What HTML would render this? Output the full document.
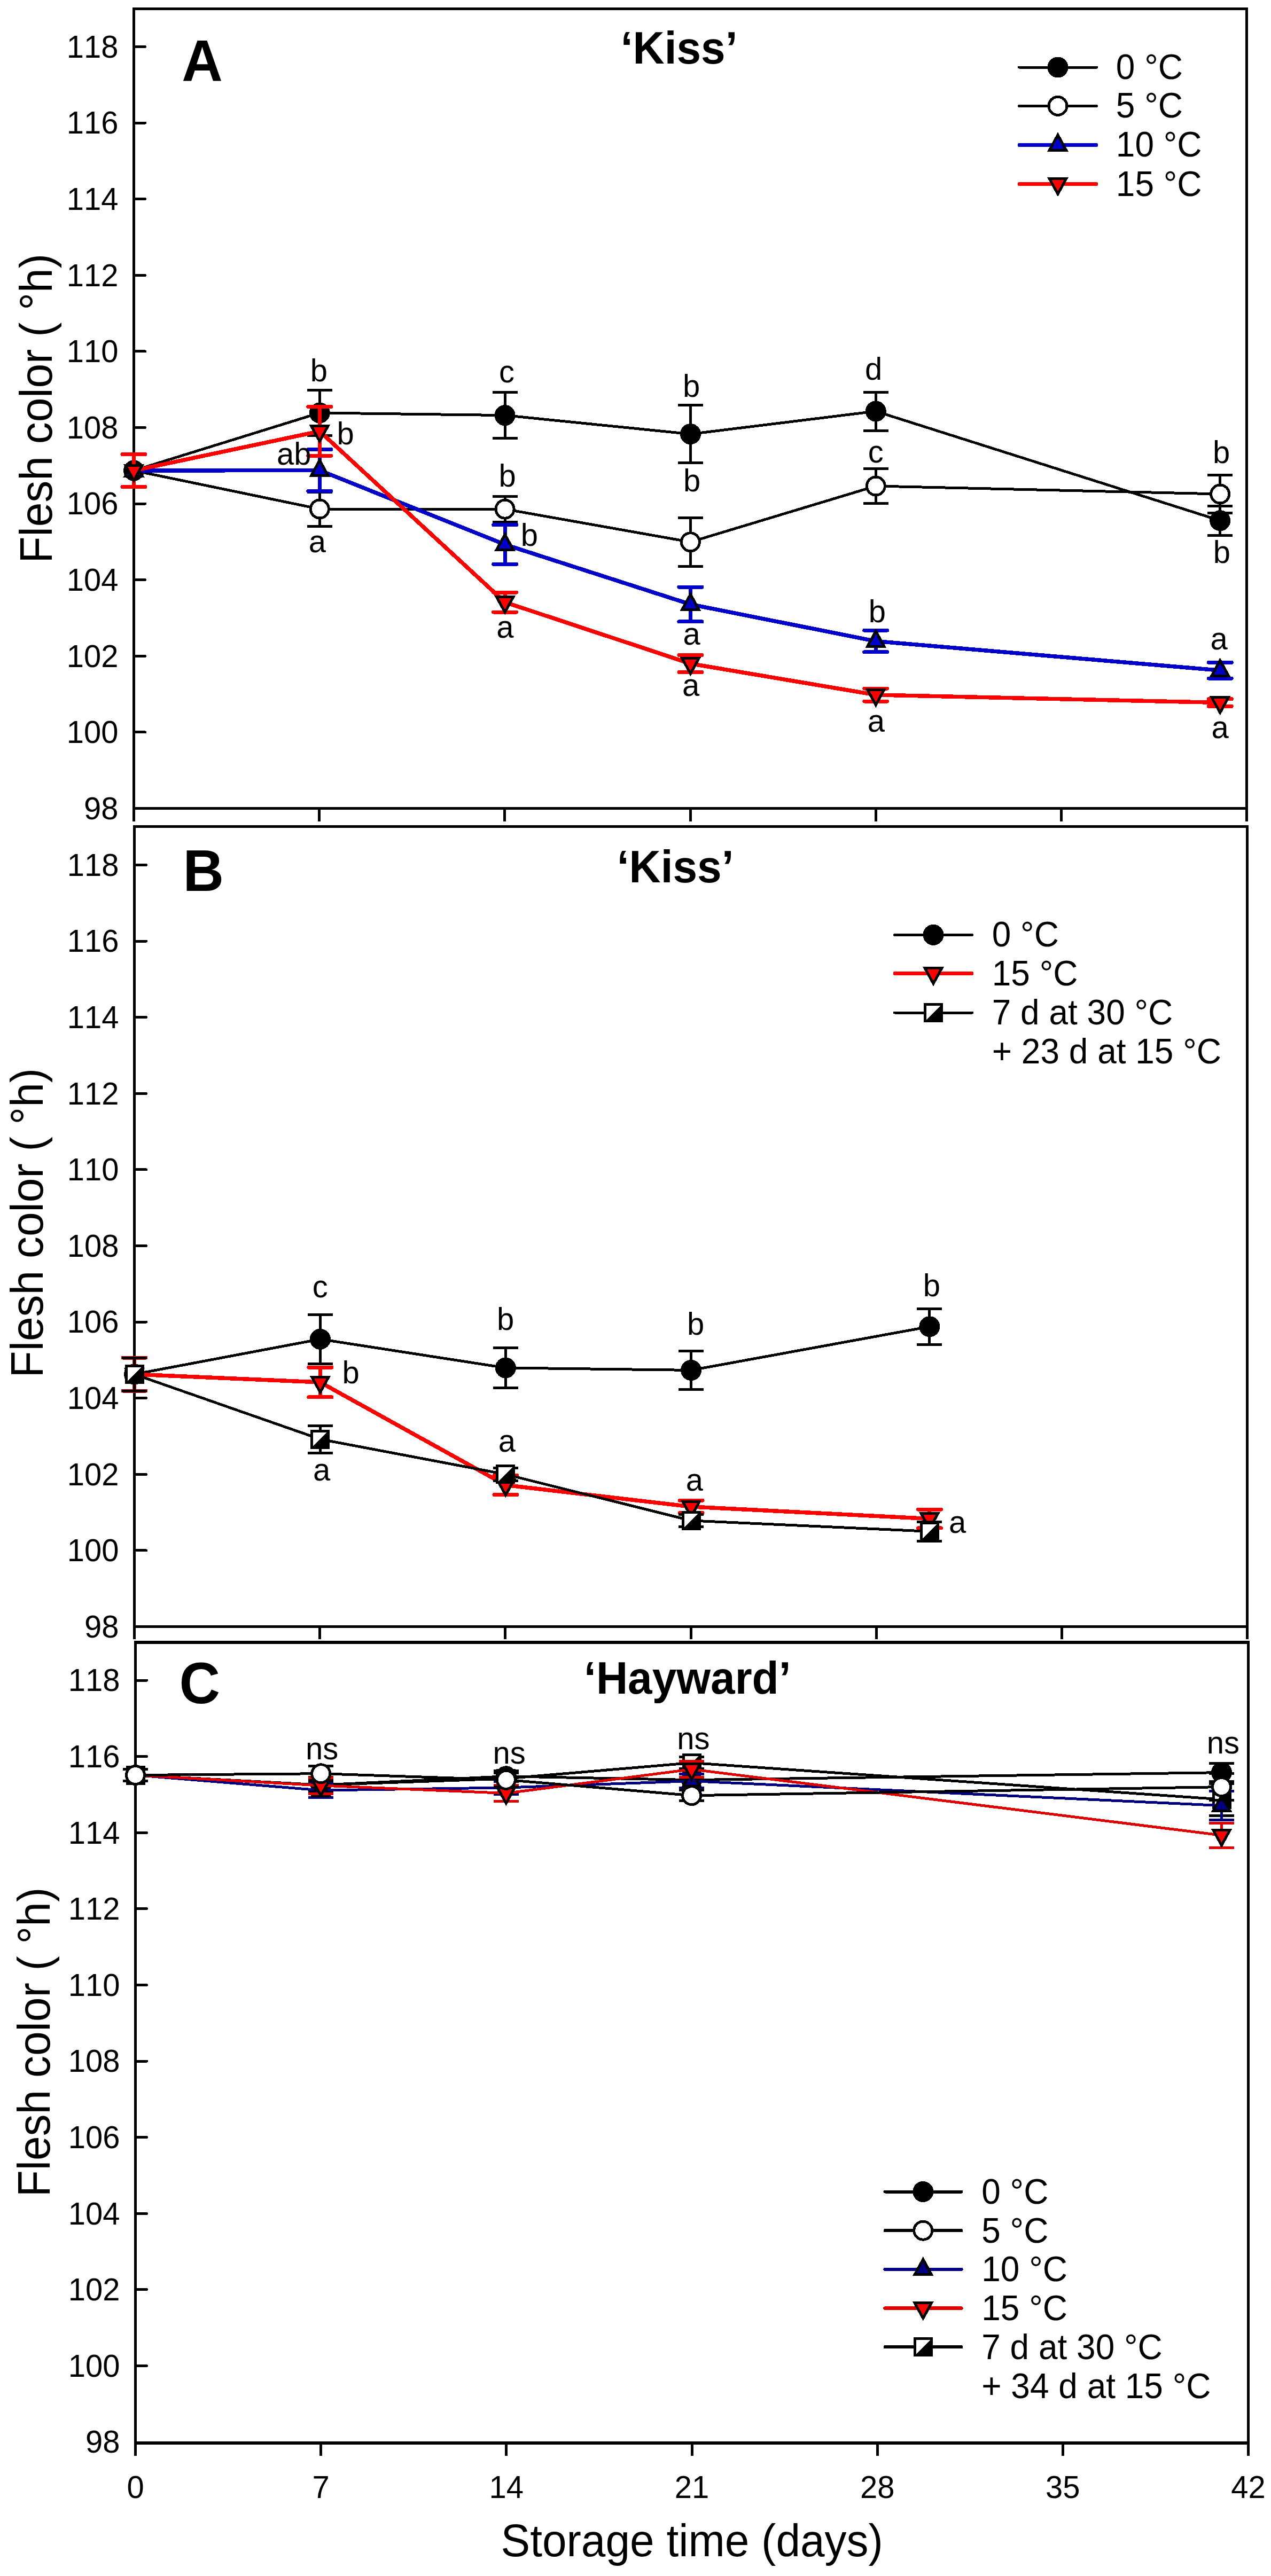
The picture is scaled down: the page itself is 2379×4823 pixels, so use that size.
<!DOCTYPE html>
<html lang="en">
<head>
<meta charset="utf-8">
<title>Flesh color during storage</title>
<style>
html,body{margin:0;padding:0;background:#fff;}
body{width:2379px;height:4823px;overflow:hidden;}
svg{display:block;}
svg text{font-family:"Liberation Sans", sans-serif;white-space:pre;font-kerning:none;}
</style>
</head>
<body>
<svg width="2379" height="4823" viewBox="0 0 2379 4823" font-family='"Liberation Sans", sans-serif' fill="#000" shape-rendering="crispEdges">
<rect width="2379" height="4823" fill="#fff"/>
<rect x="248.0" y="14.0" width="5.0" height="1523.5" fill="#000" shape-rendering="crispEdges"/>
<rect x="2331.0" y="14.0" width="5.0" height="1523.5" fill="#000" shape-rendering="crispEdges"/>
<rect x="248.0" y="14.0" width="2088.0" height="5.0" fill="#000" shape-rendering="crispEdges"/>
<rect x="248.0" y="1511.0" width="2088.0" height="5.0" fill="#000" shape-rendering="crispEdges"/>
<line x1="252.0" y1="87.5" x2="271.5" y2="87.5" stroke="#000" stroke-width="5" stroke-linecap="round"/>
<rect x="252.0" y="85.0" width="19.0" height="5.0" fill="#000" shape-rendering="crispEdges"/>
<text transform="translate(221.5,107.8) scale(1,1.035)" font-size="58" text-anchor="end">118</text>
<line x1="252.0" y1="230.1" x2="271.5" y2="230.1" stroke="#000" stroke-width="5" stroke-linecap="round"/>
<rect x="252.0" y="227.6" width="19.0" height="5.0" fill="#000" shape-rendering="crispEdges"/>
<text transform="translate(221.5,250.4) scale(1,1.035)" font-size="58" text-anchor="end">116</text>
<line x1="252.0" y1="372.7" x2="271.5" y2="372.7" stroke="#000" stroke-width="5" stroke-linecap="round"/>
<rect x="252.0" y="370.2" width="19.0" height="5.0" fill="#000" shape-rendering="crispEdges"/>
<text transform="translate(221.5,393.0) scale(1,1.035)" font-size="58" text-anchor="end">114</text>
<line x1="252.0" y1="515.3" x2="271.5" y2="515.3" stroke="#000" stroke-width="5" stroke-linecap="round"/>
<rect x="252.0" y="512.8" width="19.0" height="5.0" fill="#000" shape-rendering="crispEdges"/>
<text transform="translate(221.5,535.6) scale(1,1.035)" font-size="58" text-anchor="end">112</text>
<line x1="252.0" y1="657.9" x2="271.5" y2="657.9" stroke="#000" stroke-width="5" stroke-linecap="round"/>
<rect x="252.0" y="655.4" width="19.0" height="5.0" fill="#000" shape-rendering="crispEdges"/>
<text transform="translate(221.5,678.2) scale(1,1.035)" font-size="58" text-anchor="end">110</text>
<line x1="252.0" y1="800.5" x2="271.5" y2="800.5" stroke="#000" stroke-width="5" stroke-linecap="round"/>
<rect x="252.0" y="798.0" width="19.0" height="5.0" fill="#000" shape-rendering="crispEdges"/>
<text transform="translate(221.5,820.8) scale(1,1.035)" font-size="58" text-anchor="end">108</text>
<line x1="252.0" y1="943.1" x2="271.5" y2="943.1" stroke="#000" stroke-width="5" stroke-linecap="round"/>
<rect x="252.0" y="940.6" width="19.0" height="5.0" fill="#000" shape-rendering="crispEdges"/>
<text transform="translate(221.5,963.4) scale(1,1.035)" font-size="58" text-anchor="end">106</text>
<line x1="252.0" y1="1085.7" x2="271.5" y2="1085.7" stroke="#000" stroke-width="5" stroke-linecap="round"/>
<rect x="252.0" y="1083.2" width="19.0" height="5.0" fill="#000" shape-rendering="crispEdges"/>
<text transform="translate(221.5,1106.0) scale(1,1.035)" font-size="58" text-anchor="end">104</text>
<line x1="252.0" y1="1228.3" x2="271.5" y2="1228.3" stroke="#000" stroke-width="5" stroke-linecap="round"/>
<rect x="252.0" y="1225.8" width="19.0" height="5.0" fill="#000" shape-rendering="crispEdges"/>
<text transform="translate(221.5,1248.6) scale(1,1.035)" font-size="58" text-anchor="end">102</text>
<line x1="252.0" y1="1370.9" x2="271.5" y2="1370.9" stroke="#000" stroke-width="5" stroke-linecap="round"/>
<rect x="252.0" y="1368.4" width="19.0" height="5.0" fill="#000" shape-rendering="crispEdges"/>
<text transform="translate(221.5,1391.2) scale(1,1.035)" font-size="58" text-anchor="end">100</text>
<text transform="translate(221.5,1533.8) scale(1,1.035)" font-size="58" text-anchor="end">98</text>
<rect x="595.2" y="1515.0" width="5.0" height="22.5" fill="#000" shape-rendering="crispEdges"/>
<rect x="942.3" y="1515.0" width="5.0" height="22.5" fill="#000" shape-rendering="crispEdges"/>
<rect x="1289.5" y="1515.0" width="5.0" height="22.5" fill="#000" shape-rendering="crispEdges"/>
<rect x="1636.7" y="1515.0" width="5.0" height="22.5" fill="#000" shape-rendering="crispEdges"/>
<rect x="1983.8" y="1515.0" width="5.0" height="22.5" fill="#000" shape-rendering="crispEdges"/>
<rect x="249.0" y="1545.0" width="5.0" height="1523.5" fill="#000" shape-rendering="crispEdges"/>
<rect x="2332.0" y="1545.0" width="5.0" height="1523.5" fill="#000" shape-rendering="crispEdges"/>
<rect x="249.0" y="1545.0" width="2088.0" height="5.0" fill="#000" shape-rendering="crispEdges"/>
<rect x="249.0" y="3043.0" width="2088.0" height="5.0" fill="#000" shape-rendering="crispEdges"/>
<line x1="253.0" y1="1619.5" x2="273.5" y2="1619.5" stroke="#000" stroke-width="5" stroke-linecap="round"/>
<rect x="253.0" y="1617.0" width="20.0" height="5.0" fill="#000" shape-rendering="crispEdges"/>
<text transform="translate(222.5,1639.8) scale(1,1.035)" font-size="58" text-anchor="end">118</text>
<line x1="253.0" y1="1762.1" x2="273.5" y2="1762.1" stroke="#000" stroke-width="5" stroke-linecap="round"/>
<rect x="253.0" y="1759.6" width="20.0" height="5.0" fill="#000" shape-rendering="crispEdges"/>
<text transform="translate(222.5,1782.4) scale(1,1.035)" font-size="58" text-anchor="end">116</text>
<line x1="253.0" y1="1904.7" x2="273.5" y2="1904.7" stroke="#000" stroke-width="5" stroke-linecap="round"/>
<rect x="253.0" y="1902.2" width="20.0" height="5.0" fill="#000" shape-rendering="crispEdges"/>
<text transform="translate(222.5,1925.0) scale(1,1.035)" font-size="58" text-anchor="end">114</text>
<line x1="253.0" y1="2047.3" x2="273.5" y2="2047.3" stroke="#000" stroke-width="5" stroke-linecap="round"/>
<rect x="253.0" y="2044.8" width="20.0" height="5.0" fill="#000" shape-rendering="crispEdges"/>
<text transform="translate(222.5,2067.6) scale(1,1.035)" font-size="58" text-anchor="end">112</text>
<line x1="253.0" y1="2189.9" x2="273.5" y2="2189.9" stroke="#000" stroke-width="5" stroke-linecap="round"/>
<rect x="253.0" y="2187.4" width="20.0" height="5.0" fill="#000" shape-rendering="crispEdges"/>
<text transform="translate(222.5,2210.2) scale(1,1.035)" font-size="58" text-anchor="end">110</text>
<line x1="253.0" y1="2332.5" x2="273.5" y2="2332.5" stroke="#000" stroke-width="5" stroke-linecap="round"/>
<rect x="253.0" y="2330.0" width="20.0" height="5.0" fill="#000" shape-rendering="crispEdges"/>
<text transform="translate(222.5,2352.8) scale(1,1.035)" font-size="58" text-anchor="end">108</text>
<line x1="253.0" y1="2475.1" x2="273.5" y2="2475.1" stroke="#000" stroke-width="5" stroke-linecap="round"/>
<rect x="253.0" y="2472.6" width="20.0" height="5.0" fill="#000" shape-rendering="crispEdges"/>
<text transform="translate(222.5,2495.4) scale(1,1.035)" font-size="58" text-anchor="end">106</text>
<line x1="253.0" y1="2617.7" x2="273.5" y2="2617.7" stroke="#000" stroke-width="5" stroke-linecap="round"/>
<rect x="253.0" y="2615.2" width="20.0" height="5.0" fill="#000" shape-rendering="crispEdges"/>
<text transform="translate(222.5,2638.0) scale(1,1.035)" font-size="58" text-anchor="end">104</text>
<line x1="253.0" y1="2760.3" x2="273.5" y2="2760.3" stroke="#000" stroke-width="5" stroke-linecap="round"/>
<rect x="253.0" y="2757.8" width="20.0" height="5.0" fill="#000" shape-rendering="crispEdges"/>
<text transform="translate(222.5,2780.6) scale(1,1.035)" font-size="58" text-anchor="end">102</text>
<line x1="253.0" y1="2902.9" x2="273.5" y2="2902.9" stroke="#000" stroke-width="5" stroke-linecap="round"/>
<rect x="253.0" y="2900.4" width="20.0" height="5.0" fill="#000" shape-rendering="crispEdges"/>
<text transform="translate(222.5,2923.2) scale(1,1.035)" font-size="58" text-anchor="end">100</text>
<text transform="translate(222.5,3065.8) scale(1,1.035)" font-size="58" text-anchor="end">98</text>
<rect x="596.2" y="3047.0" width="5.0" height="21.5" fill="#000" shape-rendering="crispEdges"/>
<rect x="943.3" y="3047.0" width="5.0" height="21.5" fill="#000" shape-rendering="crispEdges"/>
<rect x="1290.5" y="3047.0" width="5.0" height="21.5" fill="#000" shape-rendering="crispEdges"/>
<rect x="1637.7" y="3047.0" width="5.0" height="21.5" fill="#000" shape-rendering="crispEdges"/>
<rect x="1984.8" y="3047.0" width="5.0" height="21.5" fill="#000" shape-rendering="crispEdges"/>
<rect x="251.0" y="3072.0" width="5.0" height="1525.5" fill="#000" shape-rendering="crispEdges"/>
<rect x="2334.0" y="3072.0" width="5.0" height="1525.5" fill="#000" shape-rendering="crispEdges"/>
<rect x="251.0" y="3072.0" width="2088.0" height="6.0" fill="#000" shape-rendering="crispEdges"/>
<rect x="251.0" y="4571.0" width="2088.0" height="6.0" fill="#000" shape-rendering="crispEdges"/>
<line x1="255.0" y1="3146.0" x2="274.5" y2="3146.0" stroke="#000" stroke-width="5" stroke-linecap="round"/>
<rect x="255.0" y="3143.5" width="19.0" height="5.0" fill="#000" shape-rendering="crispEdges"/>
<text transform="translate(224.5,3166.3) scale(1,1.035)" font-size="58" text-anchor="end">118</text>
<line x1="255.0" y1="3288.6" x2="274.5" y2="3288.6" stroke="#000" stroke-width="5" stroke-linecap="round"/>
<rect x="255.0" y="3286.1" width="19.0" height="5.0" fill="#000" shape-rendering="crispEdges"/>
<text transform="translate(224.5,3308.9) scale(1,1.035)" font-size="58" text-anchor="end">116</text>
<line x1="255.0" y1="3431.2" x2="274.5" y2="3431.2" stroke="#000" stroke-width="5" stroke-linecap="round"/>
<rect x="255.0" y="3428.7" width="19.0" height="5.0" fill="#000" shape-rendering="crispEdges"/>
<text transform="translate(224.5,3451.5) scale(1,1.035)" font-size="58" text-anchor="end">114</text>
<line x1="255.0" y1="3573.8" x2="274.5" y2="3573.8" stroke="#000" stroke-width="5" stroke-linecap="round"/>
<rect x="255.0" y="3571.3" width="19.0" height="5.0" fill="#000" shape-rendering="crispEdges"/>
<text transform="translate(224.5,3594.1) scale(1,1.035)" font-size="58" text-anchor="end">112</text>
<line x1="255.0" y1="3716.4" x2="274.5" y2="3716.4" stroke="#000" stroke-width="5" stroke-linecap="round"/>
<rect x="255.0" y="3713.9" width="19.0" height="5.0" fill="#000" shape-rendering="crispEdges"/>
<text transform="translate(224.5,3736.7) scale(1,1.035)" font-size="58" text-anchor="end">110</text>
<line x1="255.0" y1="3859.0" x2="274.5" y2="3859.0" stroke="#000" stroke-width="5" stroke-linecap="round"/>
<rect x="255.0" y="3856.5" width="19.0" height="5.0" fill="#000" shape-rendering="crispEdges"/>
<text transform="translate(224.5,3879.3) scale(1,1.035)" font-size="58" text-anchor="end">108</text>
<line x1="255.0" y1="4001.6" x2="274.5" y2="4001.6" stroke="#000" stroke-width="5" stroke-linecap="round"/>
<rect x="255.0" y="3999.1" width="19.0" height="5.0" fill="#000" shape-rendering="crispEdges"/>
<text transform="translate(224.5,4021.9) scale(1,1.035)" font-size="58" text-anchor="end">106</text>
<line x1="255.0" y1="4144.2" x2="274.5" y2="4144.2" stroke="#000" stroke-width="5" stroke-linecap="round"/>
<rect x="255.0" y="4141.7" width="19.0" height="5.0" fill="#000" shape-rendering="crispEdges"/>
<text transform="translate(224.5,4164.5) scale(1,1.035)" font-size="58" text-anchor="end">104</text>
<line x1="255.0" y1="4286.8" x2="274.5" y2="4286.8" stroke="#000" stroke-width="5" stroke-linecap="round"/>
<rect x="255.0" y="4284.3" width="19.0" height="5.0" fill="#000" shape-rendering="crispEdges"/>
<text transform="translate(224.5,4307.1) scale(1,1.035)" font-size="58" text-anchor="end">102</text>
<line x1="255.0" y1="4429.4" x2="274.5" y2="4429.4" stroke="#000" stroke-width="5" stroke-linecap="round"/>
<rect x="255.0" y="4426.9" width="19.0" height="5.0" fill="#000" shape-rendering="crispEdges"/>
<text transform="translate(224.5,4449.7) scale(1,1.035)" font-size="58" text-anchor="end">100</text>
<text transform="translate(224.5,4592.3) scale(1,1.035)" font-size="58" text-anchor="end">98</text>
<rect x="598.2" y="4576.0" width="5.0" height="21.5" fill="#000" shape-rendering="crispEdges"/>
<rect x="945.3" y="4576.0" width="5.0" height="21.5" fill="#000" shape-rendering="crispEdges"/>
<rect x="1292.5" y="4576.0" width="5.0" height="21.5" fill="#000" shape-rendering="crispEdges"/>
<rect x="1639.7" y="4576.0" width="5.0" height="21.5" fill="#000" shape-rendering="crispEdges"/>
<rect x="1986.8" y="4576.0" width="5.0" height="21.5" fill="#000" shape-rendering="crispEdges"/>
<text transform="translate(253.5,4676.5) scale(1,1.035)" font-size="58" text-anchor="middle">0</text>
<text transform="translate(600.7,4676.5) scale(1,1.035)" font-size="58" text-anchor="middle">7</text>
<text transform="translate(947.8,4676.5) scale(1,1.035)" font-size="58" text-anchor="middle">14</text>
<text transform="translate(1295.0,4676.5) scale(1,1.035)" font-size="58" text-anchor="middle">21</text>
<text transform="translate(1642.2,4676.5) scale(1,1.035)" font-size="58" text-anchor="middle">28</text>
<text transform="translate(1989.3,4676.5) scale(1,1.035)" font-size="58" text-anchor="middle">35</text>
<text transform="translate(2336.5,4676.5) scale(1,1.035)" font-size="58" text-anchor="middle">42</text>
<text transform="translate(97.2,764.8) rotate(-90) scale(1,1.035)" font-size="82" text-anchor="middle">Flesh color ( °h)</text>
<text transform="translate(80.3,2289.6) rotate(-90) scale(1,1.035)" font-size="82" text-anchor="middle">Flesh color ( °h)</text>
<text transform="translate(93.4,3823.5) rotate(-90) scale(1,1.035)" font-size="82" text-anchor="middle">Flesh color ( °h)</text>
<text transform="translate(1295.2,4785.5) scale(1,1.035)" font-size="82" text-anchor="middle">Storage time (days)</text>
<text transform="translate(1161.7,118.7) scale(1,1.035)" font-size="82" font-weight="bold">‘Kiss’</text>
<text transform="translate(1154.7,1651.9) scale(1,1.035)" font-size="82" font-weight="bold">‘Kiss’</text>
<text transform="translate(1093.1,3170.5) scale(1,1.035)" font-size="82" font-weight="bold">‘Hayward’</text>
<text transform="translate(340.3,150.9) scale(1,1.035)" font-size="106" font-weight="bold">A</text>
<text transform="translate(342.6,1667.8) scale(1,1.035)" font-size="106" font-weight="bold">B</text>
<text transform="translate(335.6,3188.6) scale(1,1.035)" font-size="106" font-weight="bold">C</text>
<polyline points="250.5,881.0 598.3,773.0 945.1,777.6 1292.4,812.7 1639.3,770.0 2283.7,974.7" fill="none" stroke="#000" stroke-width="5" stroke-linejoin="round" stroke-linecap="round"/>
<line x1="250.5" y1="850.5" x2="250.5" y2="911.5" stroke="#000" stroke-width="5"/>
<line x1="227.0" y1="850.5" x2="274.0" y2="850.5" stroke="#000" stroke-width="5"/>
<line x1="227.0" y1="911.5" x2="274.0" y2="911.5" stroke="#000" stroke-width="5"/>
<line x1="598.3" y1="730.4" x2="598.3" y2="815.6" stroke="#000" stroke-width="5"/>
<line x1="574.8" y1="730.4" x2="621.8" y2="730.4" stroke="#000" stroke-width="5"/>
<line x1="574.8" y1="815.6" x2="621.8" y2="815.6" stroke="#000" stroke-width="5"/>
<line x1="945.1" y1="734.8" x2="945.1" y2="820.4" stroke="#000" stroke-width="5"/>
<line x1="921.6" y1="734.8" x2="968.6" y2="734.8" stroke="#000" stroke-width="5"/>
<line x1="921.6" y1="820.4" x2="968.6" y2="820.4" stroke="#000" stroke-width="5"/>
<line x1="1292.4" y1="758.7" x2="1292.4" y2="866.7" stroke="#000" stroke-width="5"/>
<line x1="1268.9" y1="758.7" x2="1315.9" y2="758.7" stroke="#000" stroke-width="5"/>
<line x1="1268.9" y1="866.7" x2="1315.9" y2="866.7" stroke="#000" stroke-width="5"/>
<line x1="1639.3" y1="734.0" x2="1639.3" y2="806.0" stroke="#000" stroke-width="5"/>
<line x1="1615.8" y1="734.0" x2="1662.8" y2="734.0" stroke="#000" stroke-width="5"/>
<line x1="1615.8" y1="806.0" x2="1662.8" y2="806.0" stroke="#000" stroke-width="5"/>
<line x1="2283.7" y1="947.0" x2="2283.7" y2="1002.4" stroke="#000" stroke-width="5"/>
<line x1="2260.2" y1="947.0" x2="2307.2" y2="947.0" stroke="#000" stroke-width="5"/>
<line x1="2260.2" y1="1002.4" x2="2307.2" y2="1002.4" stroke="#000" stroke-width="5"/>
<circle cx="250.5" cy="881.0" r="17" fill="#000" stroke="#000" stroke-width="5"/>
<circle cx="598.3" cy="773.0" r="17" fill="#000" stroke="#000" stroke-width="5"/>
<circle cx="945.1" cy="777.6" r="17" fill="#000" stroke="#000" stroke-width="5"/>
<circle cx="1292.4" cy="812.7" r="17" fill="#000" stroke="#000" stroke-width="5"/>
<circle cx="1639.3" cy="770.0" r="17" fill="#000" stroke="#000" stroke-width="5"/>
<circle cx="2283.7" cy="974.7" r="17" fill="#000" stroke="#000" stroke-width="5"/>
<polyline points="250.5,881.0 598.3,953.0 945.1,953.2 1292.4,1014.8 1639.3,910.0 2283.7,925.0" fill="none" stroke="#000" stroke-width="5" stroke-linejoin="round" stroke-linecap="round"/>
<line x1="250.5" y1="850.5" x2="250.5" y2="911.5" stroke="#000" stroke-width="5"/>
<line x1="227.0" y1="850.5" x2="274.0" y2="850.5" stroke="#000" stroke-width="5"/>
<line x1="227.0" y1="911.5" x2="274.0" y2="911.5" stroke="#000" stroke-width="5"/>
<line x1="598.3" y1="921.0" x2="598.3" y2="985.0" stroke="#000" stroke-width="5"/>
<line x1="574.8" y1="921.0" x2="621.8" y2="921.0" stroke="#000" stroke-width="5"/>
<line x1="574.8" y1="985.0" x2="621.8" y2="985.0" stroke="#000" stroke-width="5"/>
<line x1="945.1" y1="929.3" x2="945.1" y2="977.1" stroke="#000" stroke-width="5"/>
<line x1="921.6" y1="929.3" x2="968.6" y2="929.3" stroke="#000" stroke-width="5"/>
<line x1="921.6" y1="977.1" x2="968.6" y2="977.1" stroke="#000" stroke-width="5"/>
<line x1="1292.4" y1="969.3" x2="1292.4" y2="1060.3" stroke="#000" stroke-width="5"/>
<line x1="1268.9" y1="969.3" x2="1315.9" y2="969.3" stroke="#000" stroke-width="5"/>
<line x1="1268.9" y1="1060.3" x2="1315.9" y2="1060.3" stroke="#000" stroke-width="5"/>
<line x1="1639.3" y1="877.3" x2="1639.3" y2="942.7" stroke="#000" stroke-width="5"/>
<line x1="1615.8" y1="877.3" x2="1662.8" y2="877.3" stroke="#000" stroke-width="5"/>
<line x1="1615.8" y1="942.7" x2="1662.8" y2="942.7" stroke="#000" stroke-width="5"/>
<line x1="2283.7" y1="889.7" x2="2283.7" y2="960.3" stroke="#000" stroke-width="5"/>
<line x1="2260.2" y1="889.7" x2="2307.2" y2="889.7" stroke="#000" stroke-width="5"/>
<line x1="2260.2" y1="960.3" x2="2307.2" y2="960.3" stroke="#000" stroke-width="5"/>
<circle cx="598.3" cy="953.0" r="17" fill="#fff" stroke="#000" stroke-width="5"/>
<circle cx="945.1" cy="953.2" r="17" fill="#fff" stroke="#000" stroke-width="5"/>
<circle cx="1292.4" cy="1014.8" r="17" fill="#fff" stroke="#000" stroke-width="5"/>
<circle cx="1639.3" cy="910.0" r="17" fill="#fff" stroke="#000" stroke-width="5"/>
<circle cx="2283.7" cy="925.0" r="17" fill="#fff" stroke="#000" stroke-width="5"/>
<polyline points="250.5,881.0 598.3,880.5 945.1,1019.5 1292.4,1131.5 1639.3,1200.5 2283.7,1255.2" fill="none" stroke="#0000c8" stroke-width="7.5" stroke-linejoin="round" stroke-linecap="round"/>
<line x1="250.5" y1="850.5" x2="250.5" y2="911.5" stroke="#0000c8" stroke-width="7"/>
<line x1="229.0" y1="850.5" x2="272.0" y2="850.5" stroke="#0000c8" stroke-width="7" stroke-linecap="round"/>
<line x1="229.0" y1="911.5" x2="272.0" y2="911.5" stroke="#0000c8" stroke-width="7" stroke-linecap="round"/>
<line x1="598.3" y1="841.4" x2="598.3" y2="919.6" stroke="#0000c8" stroke-width="7"/>
<line x1="576.8" y1="841.4" x2="619.8" y2="841.4" stroke="#0000c8" stroke-width="7" stroke-linecap="round"/>
<line x1="576.8" y1="919.6" x2="619.8" y2="919.6" stroke="#0000c8" stroke-width="7" stroke-linecap="round"/>
<line x1="945.1" y1="982.6" x2="945.1" y2="1056.4" stroke="#0000c8" stroke-width="7"/>
<line x1="923.6" y1="982.6" x2="966.6" y2="982.6" stroke="#0000c8" stroke-width="7" stroke-linecap="round"/>
<line x1="923.6" y1="1056.4" x2="966.6" y2="1056.4" stroke="#0000c8" stroke-width="7" stroke-linecap="round"/>
<line x1="1292.4" y1="1099.1" x2="1292.4" y2="1163.9" stroke="#0000c8" stroke-width="7"/>
<line x1="1270.9" y1="1099.1" x2="1313.9" y2="1099.1" stroke="#0000c8" stroke-width="7" stroke-linecap="round"/>
<line x1="1270.9" y1="1163.9" x2="1313.9" y2="1163.9" stroke="#0000c8" stroke-width="7" stroke-linecap="round"/>
<line x1="1639.3" y1="1180.1" x2="1639.3" y2="1220.9" stroke="#0000c8" stroke-width="7"/>
<line x1="1617.8" y1="1180.1" x2="1660.8" y2="1180.1" stroke="#0000c8" stroke-width="7" stroke-linecap="round"/>
<line x1="1617.8" y1="1220.9" x2="1660.8" y2="1220.9" stroke="#0000c8" stroke-width="7" stroke-linecap="round"/>
<line x1="2283.7" y1="1240.3" x2="2283.7" y2="1270.1" stroke="#0000c8" stroke-width="7"/>
<line x1="2262.2" y1="1240.3" x2="2305.2" y2="1240.3" stroke="#0000c8" stroke-width="7" stroke-linecap="round"/>
<line x1="2262.2" y1="1270.1" x2="2305.2" y2="1270.1" stroke="#0000c8" stroke-width="7" stroke-linecap="round"/>
<polygon points="234.7,891.0 266.3,891.0 250.5,862.2" fill="#0000c8" stroke="#000" stroke-width="5" stroke-linejoin="miter"/>
<polygon points="582.5,890.5 614.1,890.5 598.3,861.7" fill="#0000c8" stroke="#000" stroke-width="5" stroke-linejoin="miter"/>
<polygon points="929.3,1029.5 960.9,1029.5 945.1,1000.7" fill="#0000c8" stroke="#000" stroke-width="5" stroke-linejoin="miter"/>
<polygon points="1276.6,1141.5 1308.2,1141.5 1292.4,1112.7" fill="#0000c8" stroke="#000" stroke-width="5" stroke-linejoin="miter"/>
<polygon points="1623.5,1210.5 1655.1,1210.5 1639.3,1181.7" fill="#0000c8" stroke="#000" stroke-width="5" stroke-linejoin="miter"/>
<polygon points="2267.9,1265.2 2299.5,1265.2 2283.7,1236.4" fill="#0000c8" stroke="#000" stroke-width="5" stroke-linejoin="miter"/>
<polyline points="250.5,881.0 598.3,807.4 945.1,1127.5 1292.4,1242.5 1639.3,1301.0 2283.7,1315.5" fill="none" stroke="#ff0000" stroke-width="7.5" stroke-linejoin="round" stroke-linecap="round"/>
<line x1="250.5" y1="850.5" x2="250.5" y2="911.5" stroke="#ff0000" stroke-width="7"/>
<line x1="229.0" y1="850.5" x2="272.0" y2="850.5" stroke="#ff0000" stroke-width="7" stroke-linecap="round"/>
<line x1="229.0" y1="911.5" x2="272.0" y2="911.5" stroke="#ff0000" stroke-width="7" stroke-linecap="round"/>
<line x1="598.3" y1="761.5" x2="598.3" y2="853.3" stroke="#ff0000" stroke-width="7"/>
<line x1="576.8" y1="761.5" x2="619.8" y2="761.5" stroke="#ff0000" stroke-width="7" stroke-linecap="round"/>
<line x1="576.8" y1="853.3" x2="619.8" y2="853.3" stroke="#ff0000" stroke-width="7" stroke-linecap="round"/>
<line x1="945.1" y1="1109.0" x2="945.1" y2="1146.0" stroke="#ff0000" stroke-width="7"/>
<line x1="923.6" y1="1109.0" x2="966.6" y2="1109.0" stroke="#ff0000" stroke-width="7" stroke-linecap="round"/>
<line x1="923.6" y1="1146.0" x2="966.6" y2="1146.0" stroke="#ff0000" stroke-width="7" stroke-linecap="round"/>
<line x1="1292.4" y1="1226.7" x2="1292.4" y2="1258.3" stroke="#ff0000" stroke-width="7"/>
<line x1="1270.9" y1="1226.7" x2="1313.9" y2="1226.7" stroke="#ff0000" stroke-width="7" stroke-linecap="round"/>
<line x1="1270.9" y1="1258.3" x2="1313.9" y2="1258.3" stroke="#ff0000" stroke-width="7" stroke-linecap="round"/>
<line x1="1639.3" y1="1289.0" x2="1639.3" y2="1313.0" stroke="#ff0000" stroke-width="7"/>
<line x1="1617.8" y1="1289.0" x2="1660.8" y2="1289.0" stroke="#ff0000" stroke-width="7" stroke-linecap="round"/>
<line x1="1617.8" y1="1313.0" x2="1660.8" y2="1313.0" stroke="#ff0000" stroke-width="7" stroke-linecap="round"/>
<line x1="2283.7" y1="1308.8" x2="2283.7" y2="1322.2" stroke="#ff0000" stroke-width="7"/>
<line x1="2262.2" y1="1308.8" x2="2305.2" y2="1308.8" stroke="#ff0000" stroke-width="7" stroke-linecap="round"/>
<line x1="2262.2" y1="1322.2" x2="2305.2" y2="1322.2" stroke="#ff0000" stroke-width="7" stroke-linecap="round"/>
<polygon points="234.7,871.0 266.3,871.0 250.5,899.8" fill="#ff0000" stroke="#000" stroke-width="5" stroke-linejoin="miter"/>
<polygon points="582.5,797.4 614.1,797.4 598.3,826.2" fill="#ff0000" stroke="#000" stroke-width="5" stroke-linejoin="miter"/>
<polygon points="929.3,1117.5 960.9,1117.5 945.1,1146.3" fill="#ff0000" stroke="#000" stroke-width="5" stroke-linejoin="miter"/>
<polygon points="1276.6,1232.5 1308.2,1232.5 1292.4,1261.3" fill="#ff0000" stroke="#000" stroke-width="5" stroke-linejoin="miter"/>
<polygon points="1623.5,1291.0 1655.1,1291.0 1639.3,1319.8" fill="#ff0000" stroke="#000" stroke-width="5" stroke-linejoin="miter"/>
<polygon points="2267.9,1305.5 2299.5,1305.5 2283.7,1334.3" fill="#ff0000" stroke="#000" stroke-width="5" stroke-linejoin="miter"/>
<text transform="translate(580.8,713.5) scale(1,1.035)" font-size="58">b</text>
<text transform="translate(630.5,832.3) scale(1,1.035)" font-size="58">b</text>
<text transform="translate(517.9,870.0) scale(1,1.035)" font-size="58">ab</text>
<text transform="translate(577.8,1033.7) scale(1,1.035)" font-size="58">a</text>
<text transform="translate(934.0,715.7) scale(1,1.035)" font-size="58">c</text>
<text transform="translate(933.6,910.5) scale(1,1.035)" font-size="58">b</text>
<text transform="translate(974.7,1021.8) scale(1,1.035)" font-size="58">b</text>
<text transform="translate(929.2,1194.0) scale(1,1.035)" font-size="58">a</text>
<text transform="translate(1277.9,743.0) scale(1,1.035)" font-size="58">b</text>
<text transform="translate(1278.9,920.1) scale(1,1.035)" font-size="58">b</text>
<text transform="translate(1278.4,1207.1) scale(1,1.035)" font-size="58">a</text>
<text transform="translate(1277.1,1303.0) scale(1,1.035)" font-size="58">a</text>
<text transform="translate(1619.0,711.4) scale(1,1.035)" font-size="58">d</text>
<text transform="translate(1624.8,865.7) scale(1,1.035)" font-size="58">c</text>
<text transform="translate(1625.7,1164.5) scale(1,1.035)" font-size="58">b</text>
<text transform="translate(1623.8,1370.0) scale(1,1.035)" font-size="58">a</text>
<text transform="translate(2269.9,867.0) scale(1,1.035)" font-size="58">b</text>
<text transform="translate(2270.7,1053.6) scale(1,1.035)" font-size="58">b</text>
<text transform="translate(2265.4,1216.3) scale(1,1.035)" font-size="58">a</text>
<text transform="translate(2267.4,1381.5) scale(1,1.035)" font-size="58">a</text>
<line x1="1907.5" y1="126.0" x2="2052.5" y2="126.0" stroke="#000" stroke-width="5" stroke-linecap="round"/>
<circle cx="1980.0" cy="126.0" r="17" fill="#000" stroke="#000" stroke-width="5"/>
<line x1="1907.5" y1="198.4" x2="2052.5" y2="198.4" stroke="#000" stroke-width="5" stroke-linecap="round"/>
<circle cx="1980.0" cy="198.4" r="17" fill="#fff" stroke="#000" stroke-width="5"/>
<line x1="1908.5" y1="271.4" x2="2051.5" y2="271.4" stroke="#0000c8" stroke-width="7.5" stroke-linecap="round"/>
<polygon points="1964.2,281.4 1995.8,281.4 1980.0,252.6" fill="#0000c8" stroke="#000" stroke-width="5" stroke-linejoin="miter"/>
<line x1="1908.5" y1="344.4" x2="2051.5" y2="344.4" stroke="#ff0000" stroke-width="7.5" stroke-linecap="round"/>
<polygon points="1964.2,334.4 1995.8,334.4 1980.0,363.2" fill="#ff0000" stroke="#000" stroke-width="5" stroke-linejoin="miter"/>
<text transform="translate(2088.8,147.7) scale(1,1.035)" font-size="64">0 °C</text>
<text transform="translate(2088.8,220.2) scale(1,1.035)" font-size="64">5 °C</text>
<text transform="translate(2088.8,293.4) scale(1,1.035)" font-size="64">10 °C</text>
<text transform="translate(2088.8,366.5) scale(1,1.035)" font-size="64">15 °C</text>
<polyline points="251.5,2573.0 599.4,2507.3 946.4,2561.0 1293.6,2565.4 1739.9,2483.8" fill="none" stroke="#000" stroke-width="5" stroke-linejoin="round" stroke-linecap="round"/>
<line x1="251.5" y1="2542.0" x2="251.5" y2="2604.0" stroke="#000" stroke-width="5"/>
<line x1="228.0" y1="2542.0" x2="275.0" y2="2542.0" stroke="#000" stroke-width="5"/>
<line x1="228.0" y1="2604.0" x2="275.0" y2="2604.0" stroke="#000" stroke-width="5"/>
<line x1="599.4" y1="2461.6" x2="599.4" y2="2553.0" stroke="#000" stroke-width="5"/>
<line x1="575.9" y1="2461.6" x2="622.9" y2="2461.6" stroke="#000" stroke-width="5"/>
<line x1="575.9" y1="2553.0" x2="622.9" y2="2553.0" stroke="#000" stroke-width="5"/>
<line x1="946.4" y1="2523.2" x2="946.4" y2="2598.8" stroke="#000" stroke-width="5"/>
<line x1="922.9" y1="2523.2" x2="969.9" y2="2523.2" stroke="#000" stroke-width="5"/>
<line x1="922.9" y1="2598.8" x2="969.9" y2="2598.8" stroke="#000" stroke-width="5"/>
<line x1="1293.6" y1="2529.1" x2="1293.6" y2="2601.7" stroke="#000" stroke-width="5"/>
<line x1="1270.1" y1="2529.1" x2="1317.1" y2="2529.1" stroke="#000" stroke-width="5"/>
<line x1="1270.1" y1="2601.7" x2="1317.1" y2="2601.7" stroke="#000" stroke-width="5"/>
<line x1="1739.9" y1="2450.2" x2="1739.9" y2="2517.4" stroke="#000" stroke-width="5"/>
<line x1="1716.4" y1="2450.2" x2="1763.4" y2="2450.2" stroke="#000" stroke-width="5"/>
<line x1="1716.4" y1="2517.4" x2="1763.4" y2="2517.4" stroke="#000" stroke-width="5"/>
<circle cx="251.5" cy="2573.0" r="17" fill="#000" stroke="#000" stroke-width="5"/>
<circle cx="599.4" cy="2507.3" r="17" fill="#000" stroke="#000" stroke-width="5"/>
<circle cx="946.4" cy="2561.0" r="17" fill="#000" stroke="#000" stroke-width="5"/>
<circle cx="1293.6" cy="2565.4" r="17" fill="#000" stroke="#000" stroke-width="5"/>
<circle cx="1739.9" cy="2483.8" r="17" fill="#000" stroke="#000" stroke-width="5"/>
<polyline points="251.5,2573.0 599.4,2588.0 946.4,2780.5 1293.6,2821.0 1739.9,2843.5" fill="none" stroke="#ff0000" stroke-width="7.5" stroke-linejoin="round" stroke-linecap="round"/>
<line x1="251.5" y1="2542.0" x2="251.5" y2="2604.0" stroke="#ff0000" stroke-width="7"/>
<line x1="230.0" y1="2542.0" x2="273.0" y2="2542.0" stroke="#ff0000" stroke-width="7" stroke-linecap="round"/>
<line x1="230.0" y1="2604.0" x2="273.0" y2="2604.0" stroke="#ff0000" stroke-width="7" stroke-linecap="round"/>
<line x1="599.4" y1="2560.1" x2="599.4" y2="2615.9" stroke="#ff0000" stroke-width="7"/>
<line x1="577.9" y1="2560.1" x2="620.9" y2="2560.1" stroke="#ff0000" stroke-width="7" stroke-linecap="round"/>
<line x1="577.9" y1="2615.9" x2="620.9" y2="2615.9" stroke="#ff0000" stroke-width="7" stroke-linecap="round"/>
<line x1="946.4" y1="2762.5" x2="946.4" y2="2798.5" stroke="#ff0000" stroke-width="7"/>
<line x1="924.9" y1="2762.5" x2="967.9" y2="2762.5" stroke="#ff0000" stroke-width="7" stroke-linecap="round"/>
<line x1="924.9" y1="2798.5" x2="967.9" y2="2798.5" stroke="#ff0000" stroke-width="7" stroke-linecap="round"/>
<line x1="1293.6" y1="2809.2" x2="1293.6" y2="2832.8" stroke="#ff0000" stroke-width="7"/>
<line x1="1272.1" y1="2809.2" x2="1315.1" y2="2809.2" stroke="#ff0000" stroke-width="7" stroke-linecap="round"/>
<line x1="1272.1" y1="2832.8" x2="1315.1" y2="2832.8" stroke="#ff0000" stroke-width="7" stroke-linecap="round"/>
<line x1="1739.9" y1="2826.1" x2="1739.9" y2="2860.9" stroke="#ff0000" stroke-width="7"/>
<line x1="1718.4" y1="2826.1" x2="1761.4" y2="2826.1" stroke="#ff0000" stroke-width="7" stroke-linecap="round"/>
<line x1="1718.4" y1="2860.9" x2="1761.4" y2="2860.9" stroke="#ff0000" stroke-width="7" stroke-linecap="round"/>
<polygon points="235.7,2563.0 267.3,2563.0 251.5,2591.8" fill="#ff0000" stroke="#000" stroke-width="5" stroke-linejoin="miter"/>
<polygon points="583.6,2578.0 615.2,2578.0 599.4,2606.8" fill="#ff0000" stroke="#000" stroke-width="5" stroke-linejoin="miter"/>
<polygon points="930.6,2770.5 962.2,2770.5 946.4,2799.3" fill="#ff0000" stroke="#000" stroke-width="5" stroke-linejoin="miter"/>
<polygon points="1277.8,2811.0 1309.4,2811.0 1293.6,2839.8" fill="#ff0000" stroke="#000" stroke-width="5" stroke-linejoin="miter"/>
<polygon points="1724.1,2833.5 1755.7,2833.5 1739.9,2862.3" fill="#ff0000" stroke="#000" stroke-width="5" stroke-linejoin="miter"/>
<polyline points="251.5,2573.0 599.4,2694.6 946.4,2760.4 1293.6,2847.0 1739.9,2867.3" fill="none" stroke="#000" stroke-width="5" stroke-linejoin="round" stroke-linecap="round"/>
<line x1="251.5" y1="2542.0" x2="251.5" y2="2604.0" stroke="#000" stroke-width="5"/>
<line x1="228.0" y1="2542.0" x2="275.0" y2="2542.0" stroke="#000" stroke-width="5"/>
<line x1="228.0" y1="2604.0" x2="275.0" y2="2604.0" stroke="#000" stroke-width="5"/>
<line x1="599.4" y1="2669.1" x2="599.4" y2="2720.1" stroke="#000" stroke-width="5"/>
<line x1="575.9" y1="2669.1" x2="622.9" y2="2669.1" stroke="#000" stroke-width="5"/>
<line x1="575.9" y1="2720.1" x2="622.9" y2="2720.1" stroke="#000" stroke-width="5"/>
<line x1="946.4" y1="2748.7" x2="946.4" y2="2772.1" stroke="#000" stroke-width="5"/>
<line x1="922.9" y1="2748.7" x2="969.9" y2="2748.7" stroke="#000" stroke-width="5"/>
<line x1="922.9" y1="2772.1" x2="969.9" y2="2772.1" stroke="#000" stroke-width="5"/>
<line x1="1293.6" y1="2835.4" x2="1293.6" y2="2858.6" stroke="#000" stroke-width="5"/>
<line x1="1270.1" y1="2835.4" x2="1317.1" y2="2835.4" stroke="#000" stroke-width="5"/>
<line x1="1270.1" y1="2858.6" x2="1317.1" y2="2858.6" stroke="#000" stroke-width="5"/>
<line x1="1739.9" y1="2849.5" x2="1739.9" y2="2885.1" stroke="#000" stroke-width="5"/>
<line x1="1716.4" y1="2849.5" x2="1763.4" y2="2849.5" stroke="#000" stroke-width="5"/>
<line x1="1716.4" y1="2885.1" x2="1763.4" y2="2885.1" stroke="#000" stroke-width="5"/>
<rect x="236.0" y="2557.5" width="31.0" height="31.0" fill="#fff" stroke="#000" stroke-width="5"/>
<polygon points="267.0,2557.5 267.0,2588.5 236.0,2588.5" fill="#000"/>
<rect x="583.9" y="2679.1" width="31.0" height="31.0" fill="#fff" stroke="#000" stroke-width="5"/>
<polygon points="614.9,2679.1 614.9,2710.1 583.9,2710.1" fill="#000"/>
<rect x="930.9" y="2744.9" width="31.0" height="31.0" fill="#fff" stroke="#000" stroke-width="5"/>
<polygon points="961.9,2744.9 961.9,2775.9 930.9,2775.9" fill="#000"/>
<rect x="1278.1" y="2831.5" width="31.0" height="31.0" fill="#fff" stroke="#000" stroke-width="5"/>
<polygon points="1309.1,2831.5 1309.1,2862.5 1278.1,2862.5" fill="#000"/>
<rect x="1724.4" y="2851.8" width="31.0" height="31.0" fill="#fff" stroke="#000" stroke-width="5"/>
<polygon points="1755.4,2851.8 1755.4,2882.8 1724.4,2882.8" fill="#000"/>
<text transform="translate(584.7,2429.4) scale(1,1.035)" font-size="58">c</text>
<text transform="translate(640.5,2590.0) scale(1,1.035)" font-size="58">b</text>
<text transform="translate(585.9,2772.0) scale(1,1.035)" font-size="58">a</text>
<text transform="translate(930.1,2490.3) scale(1,1.035)" font-size="58">b</text>
<text transform="translate(932.8,2718.4) scale(1,1.035)" font-size="58">a</text>
<text transform="translate(1285.9,2498.6) scale(1,1.035)" font-size="58">b</text>
<text transform="translate(1283.7,2790.9) scale(1,1.035)" font-size="58">a</text>
<text transform="translate(1727.8,2427.4) scale(1,1.035)" font-size="58">b</text>
<text transform="translate(1776.1,2870.0) scale(1,1.035)" font-size="58">a</text>
<line x1="1674.5" y1="1750.4" x2="1819.5" y2="1750.4" stroke="#000" stroke-width="5" stroke-linecap="round"/>
<circle cx="1747.0" cy="1750.4" r="17" fill="#000" stroke="#000" stroke-width="5"/>
<line x1="1675.5" y1="1822.7" x2="1818.5" y2="1822.7" stroke="#ff0000" stroke-width="7.5" stroke-linecap="round"/>
<polygon points="1731.2,1812.7 1762.8,1812.7 1747.0,1841.5" fill="#ff0000" stroke="#000" stroke-width="5" stroke-linejoin="miter"/>
<line x1="1674.5" y1="1896.0" x2="1819.5" y2="1896.0" stroke="#000" stroke-width="5" stroke-linecap="round"/>
<rect x="1731.5" y="1880.5" width="31.0" height="31.0" fill="#fff" stroke="#000" stroke-width="5"/>
<polygon points="1762.5,1880.5 1762.5,1911.5 1731.5,1911.5" fill="#000"/>
<text transform="translate(1856.7,1772.4) scale(1,1.035)" font-size="64">0 °C</text>
<text transform="translate(1856.7,1845.4) scale(1,1.035)" font-size="64">15 °C</text>
<text transform="translate(1856.7,1918.0) scale(1,1.035)" font-size="64">7 d at 30 °C</text>
<text transform="translate(1856.7,1991.0) scale(1,1.035)" font-size="64">+ 23 d at 15 °C</text>
<polyline points="253.5,3323.5 600.7,3342.0 947.3,3330.0 1294.6,3300.5 2286.5,3369.0" fill="none" stroke="#000" stroke-width="5" stroke-linejoin="round" stroke-linecap="round"/>
<line x1="253.5" y1="3312.1" x2="253.5" y2="3334.9" stroke="#000" stroke-width="5"/>
<line x1="230.0" y1="3312.1" x2="277.0" y2="3312.1" stroke="#000" stroke-width="5"/>
<line x1="230.0" y1="3334.9" x2="277.0" y2="3334.9" stroke="#000" stroke-width="5"/>
<line x1="600.7" y1="3327.5" x2="600.7" y2="3356.5" stroke="#000" stroke-width="5"/>
<line x1="577.2" y1="3327.5" x2="624.2" y2="3327.5" stroke="#000" stroke-width="5"/>
<line x1="577.2" y1="3356.5" x2="624.2" y2="3356.5" stroke="#000" stroke-width="5"/>
<line x1="947.3" y1="3317.5" x2="947.3" y2="3342.5" stroke="#000" stroke-width="5"/>
<line x1="923.8" y1="3317.5" x2="970.8" y2="3317.5" stroke="#000" stroke-width="5"/>
<line x1="923.8" y1="3342.5" x2="970.8" y2="3342.5" stroke="#000" stroke-width="5"/>
<line x1="1294.6" y1="3289.5" x2="1294.6" y2="3311.5" stroke="#000" stroke-width="5"/>
<line x1="1271.1" y1="3289.5" x2="1318.1" y2="3289.5" stroke="#000" stroke-width="5"/>
<line x1="1271.1" y1="3311.5" x2="1318.1" y2="3311.5" stroke="#000" stroke-width="5"/>
<line x1="2286.5" y1="3339.0" x2="2286.5" y2="3399.0" stroke="#000" stroke-width="5"/>
<line x1="2263.0" y1="3339.0" x2="2310.0" y2="3339.0" stroke="#000" stroke-width="5"/>
<line x1="2263.0" y1="3399.0" x2="2310.0" y2="3399.0" stroke="#000" stroke-width="5"/>
<rect x="238.0" y="3308.0" width="31.0" height="31.0" fill="#fff" stroke="#000" stroke-width="5"/>
<polygon points="269.0,3308.0 269.0,3339.0 238.0,3339.0" fill="#000"/>
<rect x="585.2" y="3326.5" width="31.0" height="31.0" fill="#fff" stroke="#000" stroke-width="5"/>
<polygon points="616.2,3326.5 616.2,3357.5 585.2,3357.5" fill="#000"/>
<rect x="931.8" y="3314.5" width="31.0" height="31.0" fill="#fff" stroke="#000" stroke-width="5"/>
<polygon points="962.8,3314.5 962.8,3345.5 931.8,3345.5" fill="#000"/>
<rect x="1279.1" y="3285.0" width="31.0" height="31.0" fill="#fff" stroke="#000" stroke-width="5"/>
<polygon points="1310.1,3285.0 1310.1,3316.0 1279.1,3316.0" fill="#000"/>
<rect x="2271.0" y="3353.5" width="31.0" height="31.0" fill="#fff" stroke="#000" stroke-width="5"/>
<polygon points="2302.0,3353.5 2302.0,3384.5 2271.0,3384.5" fill="#000"/>
<polyline points="253.5,3323.5 600.7,3342.0 947.3,3325.8 1294.6,3332.6 2286.5,3318.6" fill="none" stroke="#000" stroke-width="5" stroke-linejoin="round" stroke-linecap="round"/>
<line x1="253.5" y1="3312.1" x2="253.5" y2="3334.9" stroke="#000" stroke-width="5"/>
<line x1="230.0" y1="3312.1" x2="277.0" y2="3312.1" stroke="#000" stroke-width="5"/>
<line x1="230.0" y1="3334.9" x2="277.0" y2="3334.9" stroke="#000" stroke-width="5"/>
<line x1="600.7" y1="3332.0" x2="600.7" y2="3352.0" stroke="#000" stroke-width="5"/>
<line x1="577.2" y1="3332.0" x2="624.2" y2="3332.0" stroke="#000" stroke-width="5"/>
<line x1="577.2" y1="3352.0" x2="624.2" y2="3352.0" stroke="#000" stroke-width="5"/>
<line x1="947.3" y1="3315.8" x2="947.3" y2="3335.8" stroke="#000" stroke-width="5"/>
<line x1="923.8" y1="3315.8" x2="970.8" y2="3315.8" stroke="#000" stroke-width="5"/>
<line x1="923.8" y1="3335.8" x2="970.8" y2="3335.8" stroke="#000" stroke-width="5"/>
<line x1="2286.5" y1="3301.3" x2="2286.5" y2="3335.9" stroke="#000" stroke-width="5"/>
<line x1="2263.0" y1="3301.3" x2="2310.0" y2="3301.3" stroke="#000" stroke-width="5"/>
<line x1="2263.0" y1="3335.9" x2="2310.0" y2="3335.9" stroke="#000" stroke-width="5"/>
<circle cx="253.5" cy="3323.5" r="17" fill="#000" stroke="#000" stroke-width="5"/>
<circle cx="600.7" cy="3342.0" r="17" fill="#000" stroke="#000" stroke-width="5"/>
<circle cx="947.3" cy="3325.8" r="17" fill="#000" stroke="#000" stroke-width="5"/>
<circle cx="1294.6" cy="3332.6" r="17" fill="#000" stroke="#000" stroke-width="5"/>
<circle cx="2286.5" cy="3318.6" r="17" fill="#000" stroke="#000" stroke-width="5"/>
<polyline points="253.5,3323.5 600.7,3352.0 947.3,3347.0 1294.6,3334.6 2286.5,3380.6" fill="none" stroke="#000080" stroke-width="5" stroke-linejoin="round" stroke-linecap="round"/>
<line x1="253.5" y1="3312.1" x2="253.5" y2="3334.9" stroke="#000080" stroke-width="5"/>
<line x1="230.0" y1="3312.1" x2="277.0" y2="3312.1" stroke="#000080" stroke-width="5"/>
<line x1="230.0" y1="3334.9" x2="277.0" y2="3334.9" stroke="#000080" stroke-width="5"/>
<line x1="600.7" y1="3339.0" x2="600.7" y2="3365.0" stroke="#000080" stroke-width="5"/>
<line x1="577.2" y1="3339.0" x2="624.2" y2="3339.0" stroke="#000080" stroke-width="5"/>
<line x1="577.2" y1="3365.0" x2="624.2" y2="3365.0" stroke="#000080" stroke-width="5"/>
<line x1="947.3" y1="3334.4" x2="947.3" y2="3359.6" stroke="#000080" stroke-width="5"/>
<line x1="923.8" y1="3334.4" x2="970.8" y2="3334.4" stroke="#000080" stroke-width="5"/>
<line x1="923.8" y1="3359.6" x2="970.8" y2="3359.6" stroke="#000080" stroke-width="5"/>
<line x1="1294.6" y1="3321.6" x2="1294.6" y2="3347.6" stroke="#000080" stroke-width="5"/>
<line x1="1271.1" y1="3321.6" x2="1318.1" y2="3321.6" stroke="#000080" stroke-width="5"/>
<line x1="1271.1" y1="3347.6" x2="1318.1" y2="3347.6" stroke="#000080" stroke-width="5"/>
<line x1="2286.5" y1="3353.6" x2="2286.5" y2="3407.6" stroke="#000080" stroke-width="5"/>
<line x1="2263.0" y1="3353.6" x2="2310.0" y2="3353.6" stroke="#000080" stroke-width="5"/>
<line x1="2263.0" y1="3407.6" x2="2310.0" y2="3407.6" stroke="#000080" stroke-width="5"/>
<polygon points="237.7,3333.5 269.3,3333.5 253.5,3304.7" fill="#000080" stroke="#000" stroke-width="5" stroke-linejoin="miter"/>
<polygon points="584.9,3362.0 616.5,3362.0 600.7,3333.2" fill="#000080" stroke="#000" stroke-width="5" stroke-linejoin="miter"/>
<polygon points="931.5,3357.0 963.1,3357.0 947.3,3328.2" fill="#000080" stroke="#000" stroke-width="5" stroke-linejoin="miter"/>
<polygon points="1278.8,3344.6 1310.4,3344.6 1294.6,3315.8" fill="#000080" stroke="#000" stroke-width="5" stroke-linejoin="miter"/>
<polygon points="2270.7,3390.6 2302.3,3390.6 2286.5,3361.8" fill="#000080" stroke="#000" stroke-width="5" stroke-linejoin="miter"/>
<polyline points="253.5,3323.5 600.7,3343.0 947.3,3357.5 1294.6,3312.6 2286.5,3436.2" fill="none" stroke="#e00000" stroke-width="5" stroke-linejoin="round" stroke-linecap="round"/>
<line x1="253.5" y1="3312.1" x2="253.5" y2="3334.9" stroke="#e00000" stroke-width="5"/>
<line x1="230.0" y1="3312.1" x2="277.0" y2="3312.1" stroke="#e00000" stroke-width="5"/>
<line x1="230.0" y1="3334.9" x2="277.0" y2="3334.9" stroke="#e00000" stroke-width="5"/>
<line x1="600.7" y1="3328.0" x2="600.7" y2="3358.0" stroke="#e00000" stroke-width="5"/>
<line x1="577.2" y1="3328.0" x2="624.2" y2="3328.0" stroke="#e00000" stroke-width="5"/>
<line x1="577.2" y1="3358.0" x2="624.2" y2="3358.0" stroke="#e00000" stroke-width="5"/>
<line x1="947.3" y1="3342.1" x2="947.3" y2="3372.9" stroke="#e00000" stroke-width="5"/>
<line x1="923.8" y1="3342.1" x2="970.8" y2="3342.1" stroke="#e00000" stroke-width="5"/>
<line x1="923.8" y1="3372.9" x2="970.8" y2="3372.9" stroke="#e00000" stroke-width="5"/>
<line x1="1294.6" y1="3297.3" x2="1294.6" y2="3327.9" stroke="#e00000" stroke-width="5"/>
<line x1="1271.1" y1="3297.3" x2="1318.1" y2="3297.3" stroke="#e00000" stroke-width="5"/>
<line x1="1271.1" y1="3327.9" x2="1318.1" y2="3327.9" stroke="#e00000" stroke-width="5"/>
<line x1="2286.5" y1="3413.4" x2="2286.5" y2="3459.0" stroke="#e00000" stroke-width="5"/>
<line x1="2263.0" y1="3413.4" x2="2310.0" y2="3413.4" stroke="#e00000" stroke-width="5"/>
<line x1="2263.0" y1="3459.0" x2="2310.0" y2="3459.0" stroke="#e00000" stroke-width="5"/>
<polygon points="237.7,3313.5 269.3,3313.5 253.5,3342.3" fill="#ff0000" stroke="#000" stroke-width="5" stroke-linejoin="miter"/>
<polygon points="584.9,3333.0 616.5,3333.0 600.7,3361.8" fill="#ff0000" stroke="#000" stroke-width="5" stroke-linejoin="miter"/>
<polygon points="931.5,3347.5 963.1,3347.5 947.3,3376.3" fill="#ff0000" stroke="#000" stroke-width="5" stroke-linejoin="miter"/>
<polygon points="1278.8,3302.6 1310.4,3302.6 1294.6,3331.4" fill="#ff0000" stroke="#000" stroke-width="5" stroke-linejoin="miter"/>
<polygon points="2270.7,3426.2 2302.3,3426.2 2286.5,3455.0" fill="#ff0000" stroke="#000" stroke-width="5" stroke-linejoin="miter"/>
<polyline points="253.5,3323.5 600.7,3320.7 947.3,3332.3 1294.6,3361.7 2286.5,3345.6" fill="none" stroke="#000" stroke-width="5" stroke-linejoin="round" stroke-linecap="round"/>
<line x1="253.5" y1="3312.1" x2="253.5" y2="3334.9" stroke="#000" stroke-width="5"/>
<line x1="230.0" y1="3312.1" x2="277.0" y2="3312.1" stroke="#000" stroke-width="5"/>
<line x1="230.0" y1="3334.9" x2="277.0" y2="3334.9" stroke="#000" stroke-width="5"/>
<line x1="600.7" y1="3306.5" x2="600.7" y2="3334.9" stroke="#000" stroke-width="5"/>
<line x1="577.2" y1="3306.5" x2="624.2" y2="3306.5" stroke="#000" stroke-width="5"/>
<line x1="577.2" y1="3334.9" x2="624.2" y2="3334.9" stroke="#000" stroke-width="5"/>
<line x1="947.3" y1="3319.3" x2="947.3" y2="3345.3" stroke="#000" stroke-width="5"/>
<line x1="923.8" y1="3319.3" x2="970.8" y2="3319.3" stroke="#000" stroke-width="5"/>
<line x1="923.8" y1="3345.3" x2="970.8" y2="3345.3" stroke="#000" stroke-width="5"/>
<line x1="1294.6" y1="3351.7" x2="1294.6" y2="3371.7" stroke="#000" stroke-width="5"/>
<line x1="1271.1" y1="3351.7" x2="1318.1" y2="3351.7" stroke="#000" stroke-width="5"/>
<line x1="1271.1" y1="3371.7" x2="1318.1" y2="3371.7" stroke="#000" stroke-width="5"/>
<line x1="2286.5" y1="3320.6" x2="2286.5" y2="3370.6" stroke="#000" stroke-width="5"/>
<line x1="2263.0" y1="3320.6" x2="2310.0" y2="3320.6" stroke="#000" stroke-width="5"/>
<line x1="2263.0" y1="3370.6" x2="2310.0" y2="3370.6" stroke="#000" stroke-width="5"/>
<circle cx="253.5" cy="3323.5" r="17" fill="#fff" stroke="#000" stroke-width="5"/>
<circle cx="600.7" cy="3320.7" r="17" fill="#fff" stroke="#000" stroke-width="5"/>
<circle cx="947.3" cy="3332.3" r="17" fill="#fff" stroke="#000" stroke-width="5"/>
<circle cx="1294.6" cy="3361.7" r="17" fill="#fff" stroke="#000" stroke-width="5"/>
<circle cx="2286.5" cy="3345.6" r="17" fill="#fff" stroke="#000" stroke-width="5"/>
<text transform="translate(571.9,3293.6) scale(1,1.035)" font-size="58">ns</text>
<text transform="translate(922.4,3301.6) scale(1,1.035)" font-size="58">ns</text>
<text transform="translate(1267.3,3274.9) scale(1,1.035)" font-size="58">ns</text>
<text transform="translate(2258.8,3283.4) scale(1,1.035)" font-size="58">ns</text>
<line x1="1656.5" y1="4103.5" x2="1799.5" y2="4103.5" stroke="#000" stroke-width="6" stroke-linecap="round"/>
<circle cx="1727.8" cy="4103.5" r="17" fill="#000" stroke="#000" stroke-width="5"/>
<line x1="1656.5" y1="4176.2" x2="1799.5" y2="4176.2" stroke="#000" stroke-width="6" stroke-linecap="round"/>
<circle cx="1727.8" cy="4176.2" r="17" fill="#fff" stroke="#000" stroke-width="5"/>
<line x1="1656.5" y1="4248.9" x2="1799.5" y2="4248.9" stroke="#000080" stroke-width="6.3" stroke-linecap="round"/>
<polygon points="1712.0,4258.9 1743.6,4258.9 1727.8,4230.1" fill="#000080" stroke="#000" stroke-width="5" stroke-linejoin="miter"/>
<line x1="1656.5" y1="4321.6" x2="1799.5" y2="4321.6" stroke="#e00000" stroke-width="6.3" stroke-linecap="round"/>
<polygon points="1712.0,4311.6 1743.6,4311.6 1727.8,4340.4" fill="#ff0000" stroke="#000" stroke-width="5" stroke-linejoin="miter"/>
<line x1="1656.5" y1="4394.3" x2="1799.5" y2="4394.3" stroke="#000" stroke-width="6" stroke-linecap="round"/>
<rect x="1712.3" y="4378.8" width="31.0" height="31.0" fill="#fff" stroke="#000" stroke-width="5"/>
<polygon points="1743.3,4378.8 1743.3,4409.8 1712.3,4409.8" fill="#000"/>
<text transform="translate(1837.2,4125.5) scale(1,1.035)" font-size="64">0 °C</text>
<text transform="translate(1837.2,4198.5) scale(1,1.035)" font-size="64">5 °C</text>
<text transform="translate(1837.2,4271.2) scale(1,1.035)" font-size="64">10 °C</text>
<text transform="translate(1837.2,4344.3) scale(1,1.035)" font-size="64">15 °C</text>
<text transform="translate(1837.2,4416.6) scale(1,1.035)" font-size="64">7 d at 30 °C</text>
<text transform="translate(1837.2,4489.5) scale(1,1.035)" font-size="64">+ 34 d at 15 °C</text>
</svg>
</body>
</html>
